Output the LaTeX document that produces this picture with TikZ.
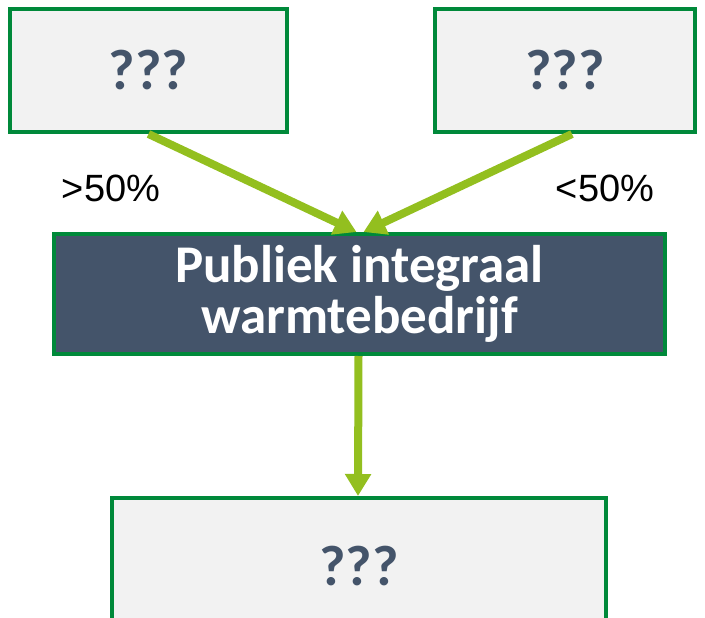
\documentclass[tikz,border=0pt]{standalone}
\usepackage{fontspec}
\setmainfont{Carlito}
\newfontfamily\labelfont{Liberation Sans}
\usetikzlibrary{calc,arrows.meta}

\definecolor{boxgreen}{HTML}{00893A}
\definecolor{slate}{HTML}{44546A}
\definecolor{lightgrey}{HTML}{F2F2F2}
\definecolor{arrowgreen}{HTML}{93BF1F}

\tikzset{
  unknownbox/.style={draw=boxgreen, line width=4pt, fill=lightgrey, text=slate,
    font=\fontsize{57}{60}\selectfont\bfseries, inner sep=0pt},
  companybox/.style={draw=boxgreen, line width=4pt, fill=slate, text=white, align=center,
    font=\fontsize{53}{51}\selectfont\bfseries, inner sep=0pt},
  share/.style={font=\labelfont\fontsize{38}{40}\selectfont},
  flow/.style={draw=arrowgreen, line width=8pt, -{Triangle[width=25pt,length=22pt]}}
}

\begin{document}
\begin{tikzpicture}[x=1pt, y=-1pt]
  \useasboundingbox (0,0) rectangle (705,618);
  \clip (0,0) rectangle (705,618);

  \node[unknownbox, minimum width=277pt, minimum height=123pt] (owner_a) at (148.5,70.5) {???};
  \node[unknownbox, minimum width=260pt, minimum height=123pt] (owner_b) at (565,70.5) {???};
  \node[companybox, minimum width=611pt, minimum height=120pt] (company) at (359.5,294) {Publiek integraal\\warmtebedrijf};
  \node[unknownbox, minimum width=494pt, minimum height=136pt] (client) at (359,566) {???};

  \node[share] (share_a) at (111,188) {>50\%};
  \node[share] (share_b) at (605,188) {<50\%};

  \draw[flow] (owner_a.south) -- ($(company.north)+(-3,0)$);
  \draw[flow] ($(owner_b.south)+(7,0)$) -- ($(company.north)+(4,0)$);
  \draw[flow] ($(company.south)+(-1,0)$) -- ($(client.north)+(-1,0)$);
\end{tikzpicture}
\end{document}
